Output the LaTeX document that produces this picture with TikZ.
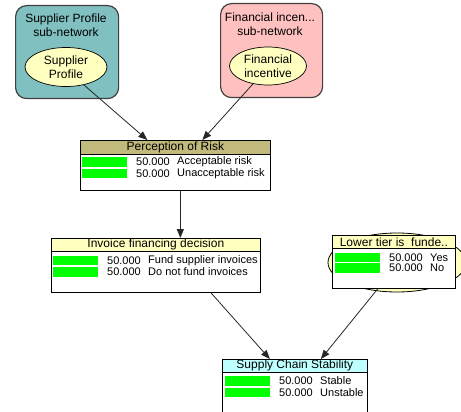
\documentclass[tikz,border=0pt]{standalone}
\usepackage{fontspec}
\setmainfont{Liberation Sans}
\usetikzlibrary{arrows.meta,shapes.geometric}
\definecolor{tealnet}{HTML}{80C0C0}
\definecolor{pinknet}{HTML}{FFC0C0}
\definecolor{lightyel}{HTML}{FFFFC0}
\definecolor{khaki}{HTML}{C2BA7C}
\definecolor{lightcyan}{HTML}{C0FFFF}
\definecolor{bargreen}{HTML}{00FF00}
\definecolor{netborder}{HTML}{404040}
\newcommand{\staterow}[4]{%
  \node[bar, anchor=west] (#1bar) at (#3,#2) {};
  \node[rowtxt] (#1val) at (#3+54,#2) {50.000};
  \node[rowtxt] (#1lab) at (#3+95,#2) {#4};
}
\begin{document}
\begin{tikzpicture}[x=1pt,y=-1pt,
  subnet/.style={draw=netborder, line width=1.2pt, rounded corners=11pt, anchor=north west, inner sep=0pt},
  subtxt/.style={align=center, font=\fontsize{12}{13.5}\selectfont, inner sep=0pt},
  ell/.style={ellipse, draw=black, line width=0.7pt, fill=lightyel, inner sep=0pt, align=center, font=\fontsize{12}{14}\selectfont},
  cpt/.style={draw=black, line width=0.7pt, fill=white, anchor=north west, inner sep=0pt},
  ttl/.style={draw=black, line width=0.7pt, anchor=north west, inner sep=0pt, font=\fontsize{12}{13}\selectfont},
  bar/.style={fill=bargreen, minimum width=45pt, minimum height=9.5pt, inner sep=0pt},
  rowtxt/.style={anchor=west, inner sep=0pt, font=\fontsize{11}{12}\selectfont},
  arr/.style={draw=black!85, line width=0.8pt, -{Triangle[length=9pt,width=7pt]}}
]
\useasboundingbox (0,0) rectangle (461,412);
\clip (0,0) rectangle (461,412);
\fill[white] (0,0) rectangle (461,412);

% Supplier Profile sub-network
\node[subnet, fill=tealnet, minimum width=103pt, minimum height=93pt] (spnet) at (15,5) {};
\node[subtxt] (spnettxt) at (66,25) {Supplier Profile\\sub-network};
\node[ell, minimum width=82pt, minimum height=39pt] (sp) at (66,67) {Supplier\\Profile};

% Financial incentive sub-network
\node[subnet, fill=pinknet, minimum width=102pt, minimum height=94pt] (finet) at (220,3) {};
\node[subtxt] (finettxt) at (270,24) {Financial incen...\\sub-network};
\node[ell, minimum width=77pt, minimum height=38pt] (fi) at (268,66) {Financial\\incentive};

% Perception of Risk
\node[cpt, minimum width=190pt, minimum height=50pt] (risk) at (80,140) {};
\node[ttl, fill=khaki, minimum width=190pt, minimum height=14pt] (risktitle) at (80,140) {Perception of Risk};
\staterow{riskA}{162}{82}{Acceptable risk}
\staterow{riskB}{173.5}{82}{Unacceptable risk}

% Invoice financing decision
\node[cpt, minimum width=209pt, minimum height=54pt] (inv) at (51,238) {};
\node[ttl, fill=lightyel, minimum width=209pt, minimum height=13pt] (invtitle) at (51,238) {Invoice financing decision};
\staterow{invA}{260.5}{53}{Fund supplier invoices}
\staterow{invB}{272}{53}{Do not fund invoices}

% Lower tier
\node[ellipse, draw=black, line width=0.8pt, fill=lightyel, minimum width=138pt, minimum height=59pt, inner sep=0pt] (lowell) at (397,262.5) {};
\node[cpt, minimum width=123pt, minimum height=53pt] (low) at (332,235) {};
\node[ttl, fill=lightyel, minimum width=123pt, minimum height=13pt] (lowtitle) at (332,235) {Lower tier is\ \ funde..};
\staterow{lowA}{257.5}{335}{Yes}
\staterow{lowB}{268}{335}{No}

% Supply Chain Stability
\node[cpt, minimum width=145pt, minimum height=60pt] (sup) at (222,359) {};
\node[ttl, fill=lightcyan, minimum width=145pt, minimum height=13pt] (suptitle) at (222,359) {Supply Chain Stability};
\staterow{supA}{381}{225}{Stable}
\staterow{supB}{392.5}{225}{Unstable}

% Connectors
\draw[arr] (sp.-45) -- ([xshift=-28pt]risk.north);
\draw[arr] (fi.230) -- ([xshift=27pt]risk.north);
\draw[arr] ([xshift=5pt]risk.south) -- ([xshift=24.5pt]inv.north);
\draw[arr] ([xshift=55pt]inv.south) -- ([xshift=-25pt]sup.north);
\draw[arr] ([xshift=-16pt]low.south) -- ([xshift=26pt]sup.north);
\end{tikzpicture}
\end{document}
